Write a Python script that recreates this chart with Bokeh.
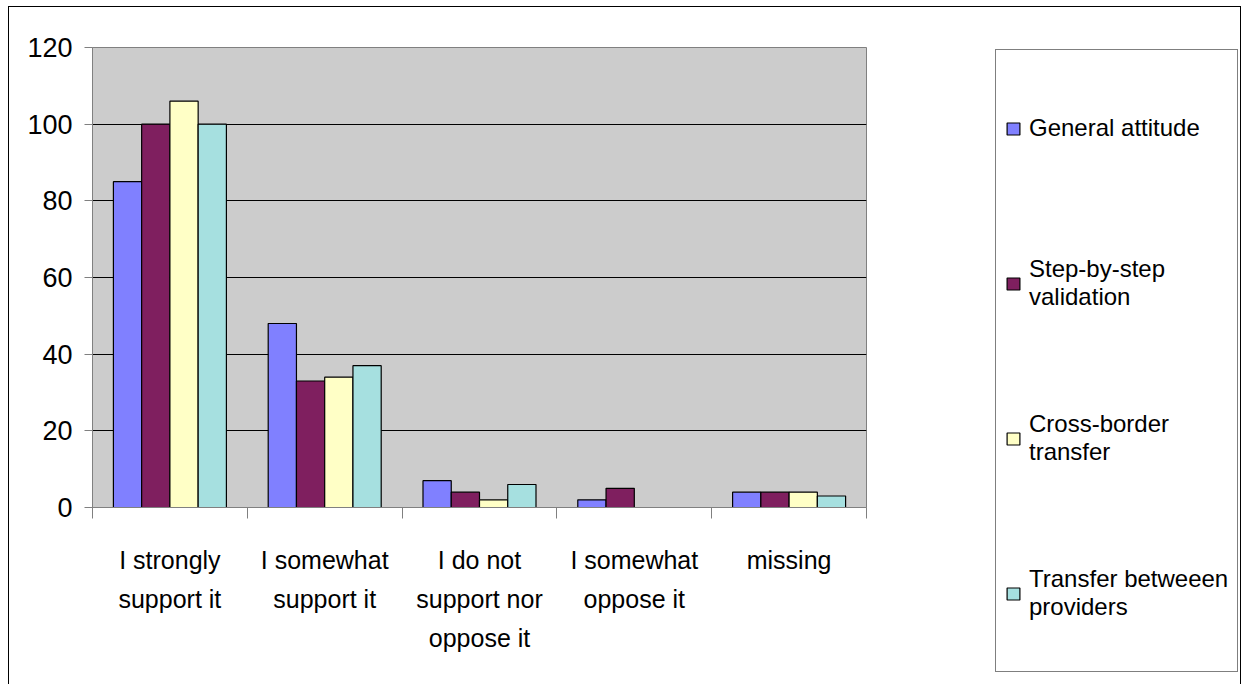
from bokeh.plotting import figure
from bokeh.models import Range1d, FixedTicker, Legend, LegendItem
from bokeh.layouts import column, row
from bokeh.embed import file_html
from bokeh.resources import INLINE

# ---- data -------------------------------------------------------------
categories = ["I strongly support it", "I somewhat support it",
              "I do not support nor oppose it", "I somewhat oppose it", "missing"]
category_labels = ["I strongly\nsupport it", "I somewhat\nsupport it",
                   "I do not\nsupport nor\noppose it", "I somewhat\noppose it", "missing"]
series_names = ["General attitude", "Step-by-step\nvalidation",
                "Cross-border\ntransfer", "Transfer betweeen\nproviders"]
general_attitude = [85, 48, 7, 2, 4]
step_by_step = [100, 33, 4, 5, 4]
cross_border = [106, 34, 2, 0, 4]
between_providers = [100, 37, 6, 0, 3]
y_ticks = [0, 20, 40, 60, 80, 100, 120]

series_values = [general_attitude, step_by_step, cross_border, between_providers]
colors = ["#8080FF", "#7F1F5F", "#FFFFC6", "#A6E0E0"]

AXIS_FONT = "Liberation Sans"
LEGEND_FONT = "Liberation Sans"
HEIGHT = 677

# ---- main chart -------------------------------------------------------
p = figure(width=858, height=HEIGHT,
           x_range=Range1d(0, len(categories)), y_range=Range1d(0, 120),
           output_backend="svg", toolbar_location=None,
           min_border_left=83, min_border_right=1,
           min_border_top=40, min_border_bottom=177)
p.frame_align = False

p.background_fill_color = "#CCCCCC"
p.border_fill_color = "white"
p.outline_line_color = "#808080"
p.outline_line_width = 1

n_series = len(series_values)
bar_w = 0.1825
bar_x = []
for k, vals in enumerate(series_values):
    offset = (k - (n_series - 1) / 2) * bar_w
    bar_x.append([i + 0.5 + offset for i in range(len(categories))])

for xs, vals, col in zip(bar_x, series_values, colors):
    p.vbar(x=xs, top=vals, width=bar_w, bottom=0,
           fill_color=col, line_color="black", line_width=1.2)

p.xgrid.grid_line_color = None
p.ygrid.ticker = FixedTicker(ticks=y_ticks[1:-1])
p.ygrid.grid_line_color = "black"
p.ygrid.grid_line_width = 1

xa = p.xaxis[0]
xa.ticker = FixedTicker(ticks=[i + 0.5 for i in range(len(categories))],
                        minor_ticks=list(range(len(categories) + 1)))
xa.major_label_overrides = {i + 0.5: lab for i, lab in enumerate(category_labels)}
xa.major_tick_line_color = None
xa.major_tick_out = 0
xa.major_tick_in = 0
xa.minor_tick_out = 11
xa.minor_tick_in = 0
xa.minor_tick_line_color = "#808080"
xa.axis_line_color = "#808080"
xa.major_label_standoff = 27
xa.major_label_text_font = AXIS_FONT
xa.major_label_text_font_size = "25px"
xa.major_label_text_color = "black"
xa.major_label_text_align = "center"
xa.major_label_text_line_height = 1.4

ya = p.yaxis[0]
ya.ticker = FixedTicker(ticks=y_ticks)
ya.major_tick_out = 8
ya.major_tick_in = 0
ya.major_tick_line_color = "#808080"
ya.minor_tick_line_color = None
ya.axis_line_color = "#808080"
ya.major_label_standoff = 12
ya.major_label_text_font = AXIS_FONT
ya.major_label_text_font_size = "27px"
ya.major_label_text_color = "black"

# ---- legend panel: same bar series, placed far outside its y-range ------
leg_fig = figure(width=1231 - 858, height=HEIGHT,
                 x_range=Range1d(0, len(categories)), y_range=Range1d(1000, 1001),
                 output_backend="svg", toolbar_location=None,
                 min_border_left=0, min_border_right=0,
                 min_border_top=0, min_border_bottom=0)
leg_fig.frame_align = False
leg_fig.axis.visible = False
leg_fig.grid.visible = False
leg_fig.outline_line_color = None
leg_fig.background_fill_color = "white"
leg_fig.border_fill_color = "white"

items = []
for name, xs, vals, col in zip(series_names, bar_x, series_values, colors):
    swatch = leg_fig.vbar(x=xs, top=vals, width=bar_w, bottom=0,
                          fill_color=col, line_color="black", line_width=1.2)
    items.append(LegendItem(label=name, renderers=[swatch]))

legend = Legend(items=items, location=(128, 12), orientation="vertical",
                label_text_font=LEGEND_FONT, label_text_font_size="24px",
                label_text_color="black",
                glyph_width=16, glyph_height=15, label_standoff=8,
                label_height=138, spacing=17, padding=9, margin=0,
                border_line_color="black", border_line_width=1,
                background_fill_color="white", background_fill_alpha=1.0)
leg_fig.add_layout(legend)

# ---- outer chart border ----------------------------------------------------
chart = column(row(p, leg_fig, spacing=0), margin=(6, 0, 0, 8),
               styles={"border-left": "1px solid black",
                       "border-top": "1px solid black",
                       "border-right": "1px solid black"})

open("out.html", "w").write(file_html(chart, INLINE))
